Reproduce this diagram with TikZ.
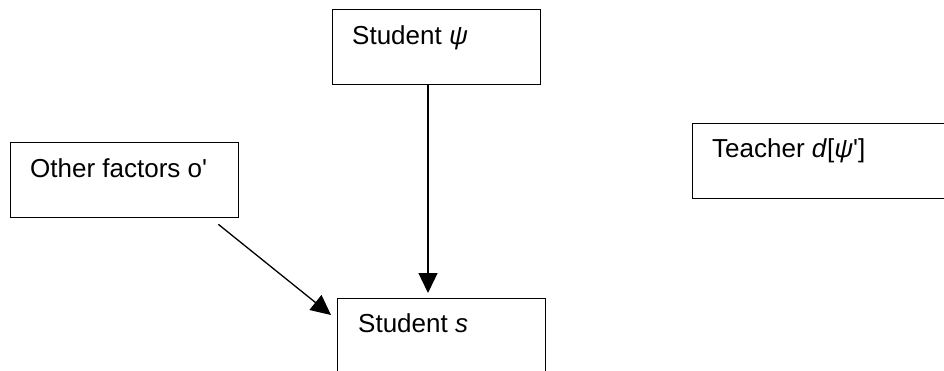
\documentclass[tikz,border=0pt]{standalone}
\usepackage{fontspec}
\setmainfont{Liberation Sans}
\usetikzlibrary{arrows.meta}
\tikzset{
  box/.style={draw=black, line width=1.3pt, rectangle, anchor=north west, inner sep=0pt},
  lbl/.style={anchor=base west, inner sep=0pt, font=\fontsize{26}{30}\selectfont},
  arr/.style={draw=black, line width=1.3pt, -{Triangle[length=20pt,width=19pt]}}
}
\begin{document}
\begin{tikzpicture}[x=1pt,y=-1pt]
\useasboundingbox (0,0) rectangle (944,370);
\clip (0,0) rectangle (944,370);
\fill[white] (0,0) rectangle (944,370);
% boxes
\node[box, minimum width=208pt, minimum height=75pt] (psi) at (332,9) {};
\node[box, minimum width=228pt, minimum height=75pt] (other) at (10,142) {};
\node[box, minimum width=268pt, minimum height=75pt] (teach) at (692,123) {};
\node[box, minimum width=208pt, minimum height=92pt] (s) at (337,298) {};
% labels
\node[lbl] (tpsi) at (352,44) {Student \textit{ψ}};
\node[lbl] (tother) at (30,177) {Other factors o\textquotesingle};
\node[lbl] (tteach) at (712,157) {Teacher \textit{d}[\textit{ψ}\textquotesingle]};
\node[lbl] (ts) at (358,332) {Student \textit{s}};
% connectors
\draw[arr] ([xshift=96pt]psi.south west) coordinate (a1) -- ([yshift=5pt]a1 |- s.north);
\draw[arr] ([shift={(-21,6)}]other.south east) -- ([shift={(-6,17)}]s.north west);
\end{tikzpicture}
\end{document}
